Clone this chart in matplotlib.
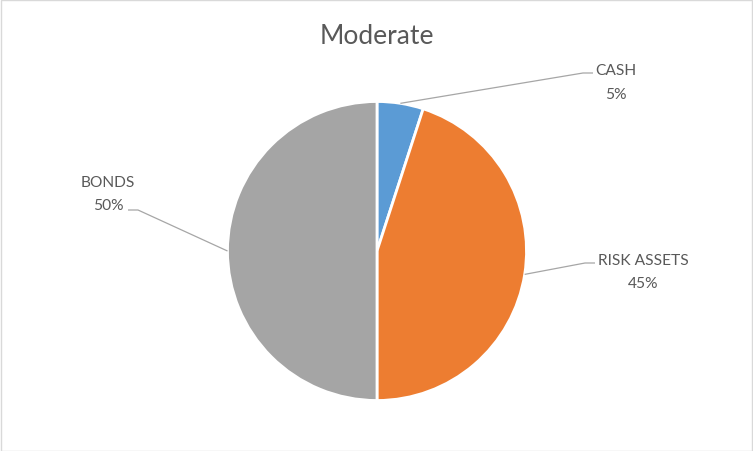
import numpy as np
import matplotlib.pyplot as plt
from matplotlib.patches import Rectangle

W, H = 753, 452

title = "Moderate"
categories = ["CASH", "RISK ASSETS", "BONDS"]
shares = [5, 45, 50]
colors = ["#5B9BD5", "#ED7D31", "#A5A5A5"]

# label block centre (px, top-left origin) and the elbow where the leader bends
label_pos = {"CASH": (616, 83), "RISK ASSETS": (643, 272.5), "BONDS": (108, 194.5)}
elbow = {"CASH": [(583, 74), (593, 74)],
         "RISK ASSETS": [(585, 264), (595, 264)],
         "BONDS": [(138, 211), (128, 211)]}

CX, CY, R = 377, 252, 149.5
TXT = "#595959"
FONT = ["Lato", "DejaVu Sans"]


def py(y):
    return H - y


fig = plt.figure(figsize=(W / 100, H / 100), dpi=100)
ax = fig.add_axes([0, 0, 1, 1])

wedges, _ = ax.pie(shares, colors=colors, startangle=90, counterclock=False,
                   center=(CX, py(CY)), radius=R, frame=True,
                   wedgeprops=dict(edgecolor="white", linewidth=2))
ax.set_xlim(0, W)
ax.set_ylim(0, H)
ax.set_aspect("equal")
ax.set_axis_off()

for w, cat, val in zip(wedges, categories, shares):
    mid = np.deg2rad((w.theta1 + w.theta2) / 2)
    x0 = CX + R * np.cos(mid)
    y0 = py(CY) + R * np.sin(mid)
    pts = [(x0, y0)] + [(x, py(y)) for x, y in elbow[cat]]
    xs, ys = zip(*pts)
    ax.plot(xs, ys, color="#A6A6A6", lw=0.9, solid_capstyle="butt")
    lx, ly = label_pos[cat]
    ax.text(lx, py(ly), f"{cat}\n{val}%", ha="center", va="center",
            fontsize=11.2, color=TXT, family=FONT, linespacing=1.9)

ax.text(CX, py(36), title, ha="center", va="center", fontsize=19,
        color=TXT, family=FONT)

fig.patches.append(Rectangle((0.5 / W, 0.5 / H), 1 - 1.5 / W, 1 - 1.5 / H,
                             transform=fig.transFigure, fill=False,
                             edgecolor="#D9D9D9", lw=1))

fig.savefig("out.png", dpi=100, facecolor="white")
